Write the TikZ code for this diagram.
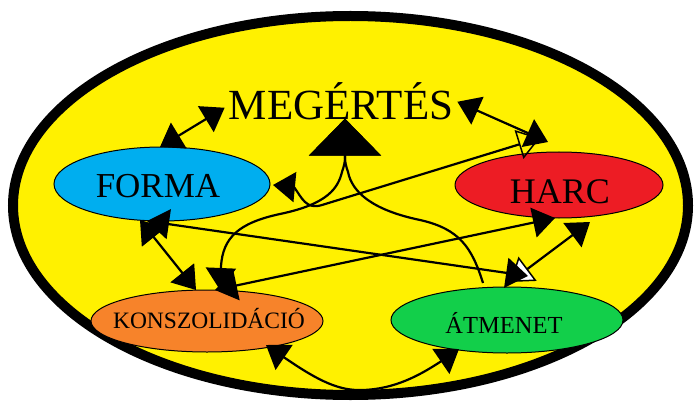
\documentclass[tikz,border=0pt]{standalone}
\usepackage{fontspec}
\setmainfont{Liberation Serif}
\usetikzlibrary{arrows.meta,shapes.geometric,calc}
\definecolor{bgyel}{RGB}{255,241,0}
\definecolor{fcyan}{RGB}{0,174,239}
\definecolor{hred}{RGB}{237,28,36}
\definecolor{korange}{RGB}{247,131,42}
\definecolor{agreen}{RGB}{18,207,74}
\tikzset{
  ahf/.tip={Triangle[length=22pt,width=30pt]},
  aho/.tip={Triangle[open,length=22pt,width=30pt,line width=1.5pt]},
  ahw/.tip={Triangle[open,fill=white,length=22pt,width=30pt,line width=1.5pt]},
  ahbig/.tip={Triangle[length=37pt,width=72pt]},
}
\begin{document}
\begin{tikzpicture}[x=1pt,y=-1pt,
  oval/.style={ellipse,draw=black,line width=1pt,inner sep=0pt},
  lbl/.style={anchor=base,inner sep=0pt,text=black},
  conn/.style={line width=2.2pt,draw=black}]
\useasboundingbox (0,0) rectangle (695,406);
\draw[line width=10pt,fill=bgyel] (350.5,205.5) ellipse [x radius=337.5pt,y radius=189.5pt];
\node[oval,fill=fcyan,minimum width=216pt,minimum height=74pt] (F) at (162,184) {};
\node[oval,fill=hred,minimum width=208pt,minimum height=66pt] (H) at (559,185) {};
\node[oval,fill=korange,minimum width=232pt,minimum height=62pt] (K) at (207,321) {};
\node[oval,fill=agreen,minimum width=232pt,minimum height=66pt] (A) at (507,320) {};
\node[lbl,font=\fontsize{43}{43}\selectfont] (M) at (341,120) {MEGÉRTÉS};
% M - FORMA
\draw[conn,ahf-ahf] ($(F)+(-2,-37)$) -- ($(M.west)+(-4,6)$);
% M - HARC
\draw[conn,ahf-ahf] ($(M.east)+(4,0)$) -- ($(H)+(-11,-43)$);
% FORMA - HARC
\draw[conn,ahf-aho] ($(F)+(111,1)$) -- (294,187) .. controls (302,198) and (306,210) .. (322,205) -- ($(H)+(-19,-47)$);
% FORMA - KONSZOLIDACIO
\draw[conn,ahf-ahf] ($(F)+(-22,36)$) -- ($(K)+(-11,-31)$);
% HARC - ATMENET
\draw[conn,ahw-ahf] ($(A)+(3,-38)$) -- ($(H)+(31,37)$);
% FORMA - ATMENET
\draw[conn,ahf-ahf] ($(F)+(-15,37)$) -- ($(A)+(21,-44)$);
% KONSZOLIDACIO - HARC
\draw[conn,ahf-ahf] ($(K)+(8,-31)$) -- ($(H)+(-4,33)$);
% M - KONSZOLIDACIO
\draw[conn,ahf-ahbig] ($(K)+(13,-31)$) -- (221,266) .. controls (223,238) and (238,223) .. (280,214) .. controls (328,204) and (338,188) .. (342,172) .. controls (344,166) and (345,162) .. (345,158) -- ($(M.south)+(4,-2)$);
% M - ATMENET
\draw[conn,-ahbig] ($(A)+(-24,-37)$) .. controls (472,248) and (460,229) .. (420,220) .. controls (372,210) and (352,192) .. (348,172) .. controls (346,166) and (345,162) .. (345,158) -- ($(M.south)+(4,-2)$);
% KONSZOLIDACIO - ATMENET
\draw[conn,ahf-ahf] ($(K)+(59,24)$) -- (285,358) .. controls (320,382) and (340,391) .. (363,390) .. controls (395,389) and (420,375) .. (440,362) -- ($(A)+(-48,29)$);
\node[lbl,font=\fontsize{35}{35}\selectfont] (Ft) at (158,197) {FORMA};
\node[lbl,font=\fontsize{36}{36}\selectfont] (Ht) at (560,203.5) {HARC};
\node[lbl,font=\fontsize{23.5}{24}\selectfont] (Kt) at (209,328) {KONSZOLIDÁCIÓ};
\node[lbl,font=\fontsize{24.5}{25}\selectfont] (At) at (504,333) {ÁTMENET};
\end{tikzpicture}
\end{document}
